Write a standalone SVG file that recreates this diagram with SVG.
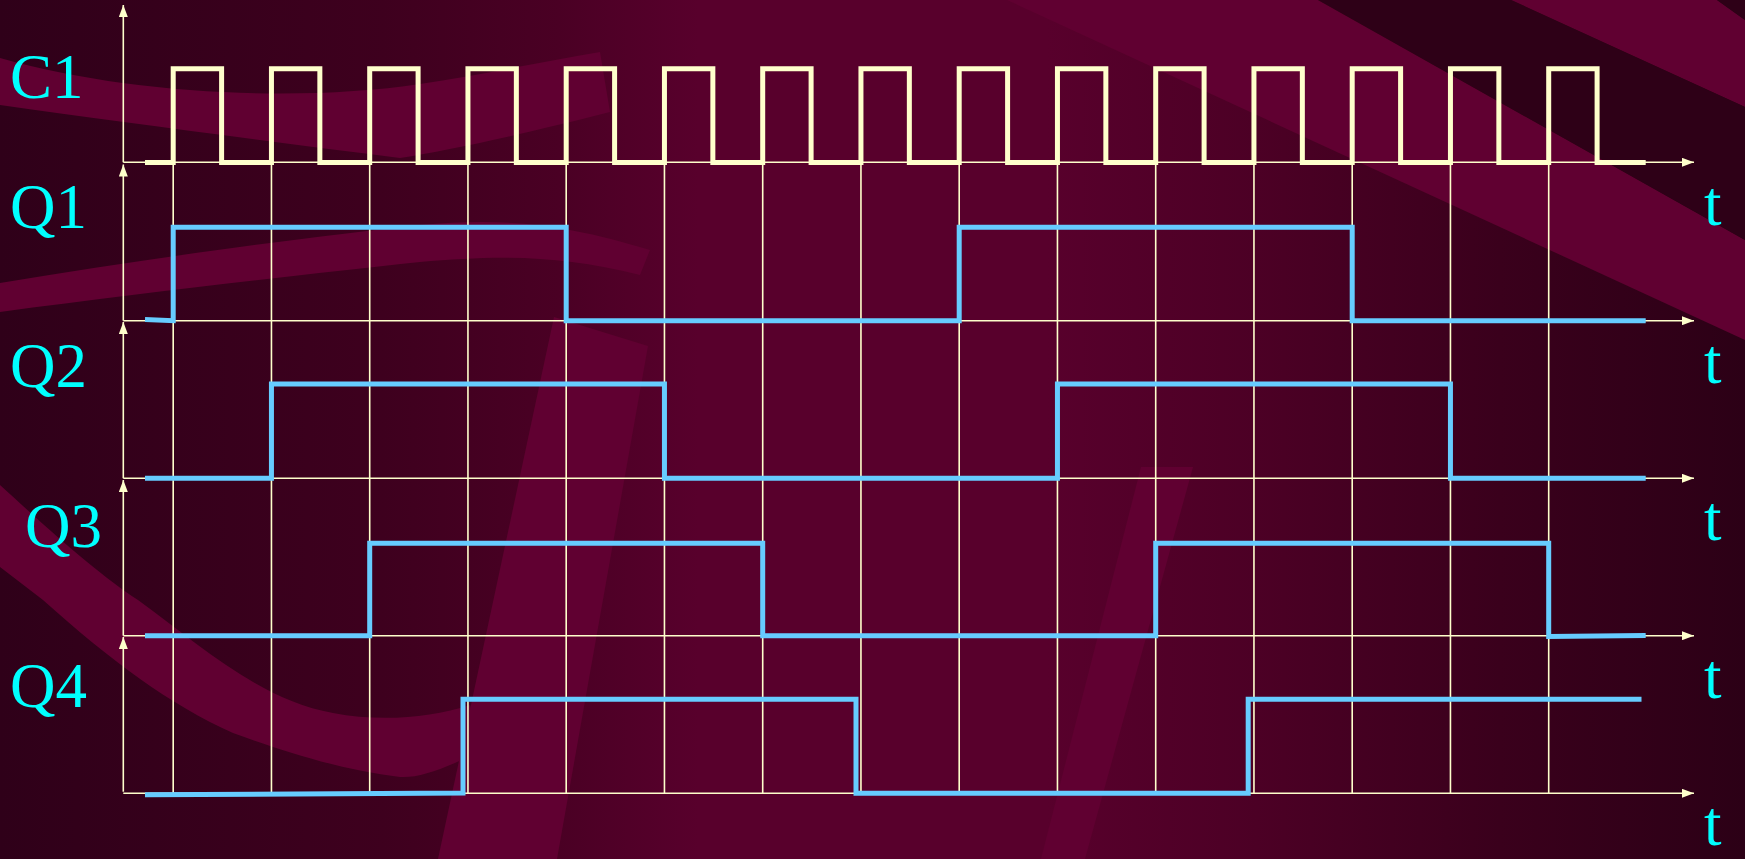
<svg xmlns="http://www.w3.org/2000/svg" width="1745" height="859" viewBox="0 0 1745 859">
<defs>
<linearGradient id="bg" x1="0" y1="0" x2="1" y2="0">
<stop offset="0" stop-color="#2F0019"/>
<stop offset="0.22" stop-color="#3E001E"/>
<stop offset="0.32" stop-color="#4A0024"/>
<stop offset="0.4" stop-color="#58002C"/>
<stop offset="0.6" stop-color="#58002C"/>
<stop offset="0.72" stop-color="#4C0025"/>
<stop offset="0.86" stop-color="#3A001C"/>
<stop offset="1" stop-color="#2C0016"/>
</linearGradient>
<marker id="ah" markerUnits="userSpaceOnUse" markerWidth="13" markerHeight="9" refX="12" refY="4.5" orient="auto">
<path d="M0,0 L12,4.5 L0,9 Z" fill="#FFFFCC"/>
</marker>
<style>
.band{fill:#600031}
.dark{fill:#2E0017}
.axis{stroke:#FFFFCC;stroke-width:1.6;fill:none}
.grid{stroke:#FFFFCC;stroke-width:1.6;fill:none}
.clk{stroke:#FFFFCC;stroke-width:5;fill:none;stroke-linejoin:miter}
.wave{stroke:#66CCFF;stroke-width:5;fill:none;stroke-linejoin:miter}
.lbl{font-family:"Liberation Serif","Times New Roman",serif;font-size:63px;fill:#00FFFF}
</style>
</defs>
<g id="background">
<rect width="1745" height="859" fill="url(#bg)"/>
<path class="band" d="M0,58 C130,95 300,102 420,84 C480,75 540,62 600,52 L610,112 C520,135 450,150 400,158 C260,140 120,122 0,105 Z"/>
<path class="band" d="M0,283 C150,258 300,238 420,225 C500,218 560,222 650,250 L640,275 C560,255 500,255 420,262 C300,275 150,292 0,312 Z"/>
<path class="band" d="M0,485 C60,540 100,575 138,600 C200,645 260,700 333,713 C380,722 430,718 470,705 L480,752 C440,770 420,778 400,777 C340,770 280,750 233,733 C170,705 110,660 43,600 L0,567 Z"/>
<path class="band" d="M554,317 L648,346 L557,859 L438,859 Z"/>
<path class="band" d="M1141,467 L1193,467 L1085,859 L1041,859 Z"/>
<path class="band" d="M1511,0 L1717,0 L1745,20 L1745,107 Z"/>
<path class="band" d="M1007,0 L1318,0 L1745,240 L1745,340 Z"/>
<path class="dark" d="M1318,0 L1511,0 L1745,107 L1745,240 Z"/>
<path class="dark" d="M1717,0 L1745,0 L1745,20 Z"/>
</g>
<g id="connectors">
<g id="grid">
<path class="grid" d="M173.2,162 V793 M271.45,162 V793 M369.7,162 V793 M467.95,162 V793 M566.2,162 V793 M664.45,162 V793 M762.7,162 V793 M860.95,162 V793 M959.2,162 V793 M1057.45,162 V793 M1155.7,162 V793 M1253.95,162 V793 M1352.2,162 V793 M1450.45,162 V793 M1548.7,162 V793"/>
</g>
<g id="axes">
<line class="axis" x1="123.3" y1="162.3" x2="1694" y2="162.3" marker-end="url(#ah)"/>
<line class="axis" x1="123.3" y1="320.7" x2="1694" y2="320.7" marker-end="url(#ah)"/>
<line class="axis" x1="123.3" y1="478.3" x2="1694" y2="478.3" marker-end="url(#ah)"/>
<line class="axis" x1="123.3" y1="635.7" x2="1694" y2="635.7" marker-end="url(#ah)"/>
<line class="axis" x1="123.3" y1="793.3" x2="1694" y2="793.3" marker-end="url(#ah)"/>
<line class="axis" x1="123.3" y1="162.3" x2="123.3" y2="5" marker-end="url(#ah)"/>
<line class="axis" x1="123.3" y1="320.7" x2="123.3" y2="164.5" marker-end="url(#ah)"/>
<line class="axis" x1="123.3" y1="478.3" x2="123.3" y2="322" marker-end="url(#ah)"/>
<line class="axis" x1="123.3" y1="635.7" x2="123.3" y2="480" marker-end="url(#ah)"/>
<line class="axis" x1="123.3" y1="791.7" x2="123.3" y2="637" marker-end="url(#ah)"/>
</g>
</g>
<g id="C1">
<path class="clk" d="M145,162.5 H173.2 V68.7 H221.6 V162.5 H271.45 V68.7 H319.85 V162.5 H369.7 V68.7 H418.1 V162.5 H467.95 V68.7 H516.35 V162.5 H566.2 V68.7 H614.6 V162.5 H664.45 V68.7 H712.85 V162.5 H762.7 V68.7 H811.1 V162.5 H860.95 V68.7 H909.35 V162.5 H959.2 V68.7 H1007.6 V162.5 H1057.45 V68.7 H1105.85 V162.5 H1155.7 V68.7 H1204.1 V162.5 H1253.95 V68.7 H1302.35 V162.5 H1352.2 V68.7 H1400.6 V162.5 H1450.45 V68.7 H1498.85 V162.5 H1548.7 V68.7 H1597.1 V162.5 H1645.7"/>
<text class="lbl" x="10" y="98">C1</text>
</g>
<g id="Q1">
<path class="wave" d="M145,319.5 L173.2,320.7 V227.3 H566.2 V320.7 H959.2 V227.3 H1352.2 V320.7 H1645.7"/>
<text class="lbl" x="10" y="228">Q1</text>
</g>
<g id="Q2">
<path class="wave" d="M145,478.3 H271.45 V384 H664.45 V478.3 H1057.45 V384 H1450.45 V478.3 H1645.7"/>
<text class="lbl" x="10" y="387">Q2</text>
</g>
<g id="Q3">
<path class="wave" d="M145,635.7 H369.7 V543.3 H762.7 V635.7 H1155.7 V543.3 H1548.7 V636.5 L1645.7,635.5"/>
<text class="lbl" x="25" y="547">Q3</text>
</g>
<g id="Q4">
<path class="wave" d="M145,794.8 L463,793 V699.3 H856 V793.3 H1248.2 V699.3 H1641.5"/>
<text class="lbl" x="10" y="707">Q4</text>
</g>
<g id="t-labels">
<text class="lbl" x="1704" y="225">t</text>
<text class="lbl" x="1704" y="383">t</text>
<text class="lbl" x="1704" y="540">t</text>
<text class="lbl" x="1704" y="698">t</text>
<text class="lbl" x="1704" y="845">t</text>
</g>
</svg>
